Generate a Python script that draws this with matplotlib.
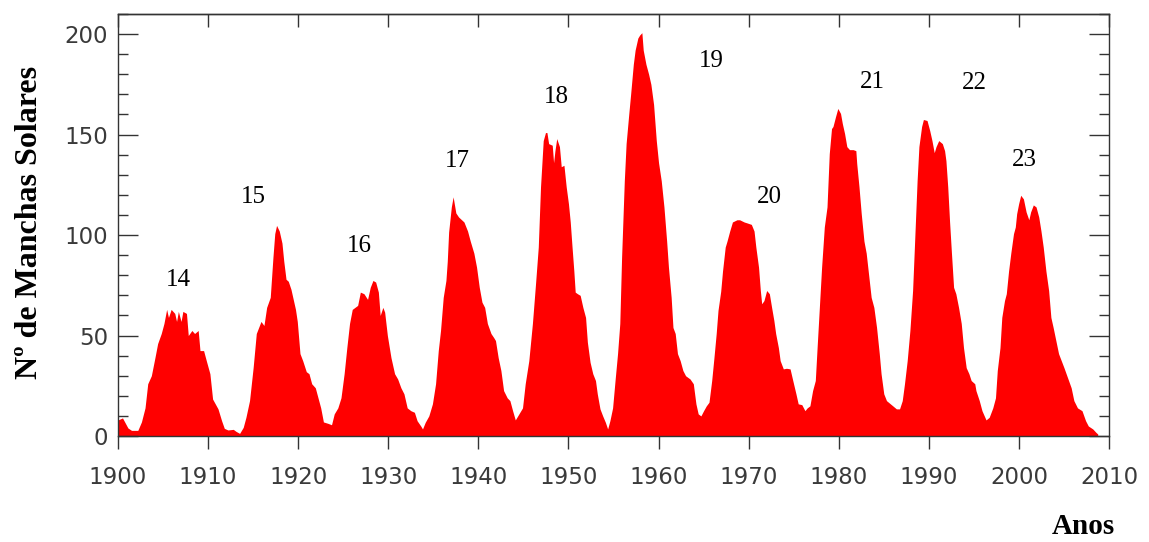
import matplotlib
matplotlib.use("Agg")
import matplotlib.pyplot as plt
from matplotlib.ticker import MultipleLocator

# ---- data (year, smoothed sunspot number) ----
years_a = [1900.0, 1900.5, 1901.1, 1901.5, 1902.2, 1902.6, 1903.0, 1903.3, 1903.7, 1904.1,
           1904.4, 1904.8, 1905.1, 1905.4, 1905.6, 1905.9, 1906.3, 1906.5, 1906.7, 1907.0,
           1907.2, 1907.6, 1907.8, 1908.2, 1908.5, 1908.9, 1909.1, 1909.5, 1909.8, 1910.2,
           1910.5, 1911.1, 1911.5, 1911.8, 1912.2, 1912.8, 1913.1, 1913.5, 1913.9, 1914.2,
           1914.6, 1915.0, 1915.35]
spots_a = [8, 9, 4, 2.8, 2.8, 7, 14, 26, 30, 39,
           46, 51, 56, 63, 59, 63, 61, 57, 62, 57,
           62, 61, 50, 52.5, 51, 52.5, 42.5, 42.5, 37.5, 31,
           18.4, 13.5, 7.6, 3.8, 3, 3.3, 2.3, 1.3, 4.3, 9.3,
           17.6, 34, 51]

years_b = [1915.87, 1916.2, 1916.5, 1916.9, 1917.2, 1917.4, 1917.6, 1917.9, 1918.2, 1918.4,
           1918.65, 1918.9, 1919.2, 1919.5, 1919.7, 1919.9, 1920.2, 1920.5, 1920.9, 1921.2,
           1921.5, 1921.9, 1922.2, 1922.5, 1922.8, 1923.3, 1923.7, 1924.0, 1924.4, 1924.75,
           1925.1, 1925.4, 1925.7, 1926.0, 1926.6, 1926.9, 1927.3, 1927.7, 1928.0, 1928.3,
           1928.6, 1928.9, 1929.1, 1929.4, 1929.6, 1929.9, 1930.3, 1930.7, 1931.04, 1931.4]
spots_b = [57, 55, 64, 69, 89, 100.7, 104.8, 102, 96, 87,
           78, 77, 73, 67, 63, 57, 41, 37.5, 32, 31,
           26, 24, 19, 14, 7, 6.3, 5.6, 11, 14, 19,
           31, 44, 56, 63, 65, 71.6, 70.8, 68, 74, 77.4,
           76.6, 71.6, 60, 64, 61.6, 50, 39, 31, 28.4, 24]

years_c = [1931.74, 1932.1, 1932.5, 1932.9, 1933.2, 1933.6, 1933.8, 1934.1, 1934.5, 1934.9,
           1935.25, 1935.55, 1935.8, 1936.1, 1936.4, 1936.55, 1936.7, 1937.0, 1937.2, 1937.5,
           1937.8, 1938.4, 1938.8, 1939.1, 1939.5, 1939.8, 1940.1, 1940.4, 1940.7, 1941.0,
           1941.4, 1941.7, 1941.9, 1942.2, 1942.5, 1942.8, 1943.2, 1943.5, 1943.8, 1944.1,
           1944.5, 1944.9, 1945.2, 1945.6, 1946.0, 1946.35, 1946.65, 1946.9, 1947.2, 1947.45]
spots_c = [21, 14, 12.6, 11.8, 7.6, 5, 3.5, 6.8, 10, 16,
           26, 42.5, 52.5, 69, 77.4, 87, 101.5, 114, 119, 111,
           109, 106.5, 102, 97, 91, 84, 74, 66.6, 64, 56,
           51, 49, 47.5, 39, 32.6, 22.6, 19, 17.6, 12.6, 8,
           11, 14, 26, 37.5, 56, 76, 94, 124, 147, 151]

years_d = [1947.61, 1947.8, 1948.2, 1948.35, 1948.5, 1948.7, 1949.0, 1949.2, 1949.5, 1949.75,
           1950.0, 1950.2, 1950.4, 1950.6, 1950.75, 1951.0, 1951.3, 1951.6, 1951.9, 1952.1,
           1952.4, 1952.7, 1953.0, 1953.2, 1953.5, 1953.8, 1954.1, 1954.35, 1954.6, 1954.9,
           1955.2, 1955.45, 1955.7, 1955.9, 1956.2, 1956.4, 1956.7, 1956.9, 1957.2, 1957.4,
           1957.7, 1957.9, 1958.15, 1958.3, 1958.6, 1958.9, 1959.15, 1959.45, 1959.75, 1960.0,
           1960.3, 1960.6, 1960.9, 1961.1, 1961.4, 1961.6, 1961.85, 1962.1, 1962.4, 1962.7,
           1963.0, 1963.3]
spots_d = [151, 145.5, 144.7, 136, 142, 148, 144, 134, 134.7, 124,
           115.6, 106.5, 94, 82, 71.6, 70.8, 70, 64, 59, 46.7,
           36.7, 31, 27.6, 21, 13.5, 10, 6.8, 3.5, 7.6, 14,
           29, 41, 56, 89, 127, 145.5, 160.5, 170, 185, 192,
           198, 199.5, 200.7, 192, 185, 180, 175, 165, 147, 136,
           127, 114, 97, 84, 69, 54, 51, 41, 37.5, 32.6,
           30, 29]

years_e = [1963.49, 1963.86, 1964.15, 1964.4, 1964.7, 1965.0, 1965.3, 1965.6, 1965.9, 1966.15,
           1966.4, 1966.6, 1966.9, 1967.1, 1967.4, 1967.6, 1967.9, 1968.2, 1968.7, 1969.0,
           1969.5, 1969.85, 1970.3, 1970.6, 1970.8, 1971.1, 1971.3, 1971.45, 1971.7, 1972.0,
           1972.3, 1972.55, 1972.8, 1973.0, 1973.3, 1973.5, 1973.85, 1974.2, 1974.6, 1974.9,
           1975.25, 1975.5, 1975.9, 1976.25, 1976.5, 1976.8, 1977.1, 1977.4, 1977.6, 1977.85,
           1978.1, 1978.4, 1978.7, 1978.95, 1979.2]
spots_e = [28.4, 26, 16, 11, 10, 12.6, 15, 16.8, 27.6, 39,
           51, 62.5, 72, 82, 94, 97, 102, 106.5, 107.6, 107.6,
           106.5, 106, 105.3, 102, 94, 84, 72.4, 65.8, 67.4, 72.4,
           70.8, 64, 57.5, 51, 44, 37.5, 33.4, 33.7, 33.4, 27.6,
           21, 16, 15.6, 12.6, 14, 15, 22.6, 27.6, 44, 64,
           84, 104, 114, 140.5, 153]

years_f = [1979.36, 1979.65, 1979.9, 1980.2, 1980.4, 1980.65, 1980.9, 1981.2, 1981.6, 1981.9,
           1982.0, 1982.25, 1982.5, 1982.8, 1983.05, 1983.35, 1983.6, 1983.9, 1984.2, 1984.5,
           1984.7, 1985.0, 1985.3, 1985.65, 1986.0, 1986.4, 1986.75, 1987.05, 1987.3, 1987.6,
           1987.9, 1988.2, 1988.4, 1988.7, 1988.9, 1989.2, 1989.4, 1989.8, 1990.1, 1990.35,
           1990.6, 1990.8, 1991.1, 1991.5, 1991.75, 1991.9, 1992.1, 1992.3, 1992.5, 1992.75,
           1993.0, 1993.3, 1993.6, 1993.85, 1994.15, 1994.45, 1994.7, 1995.1]
spots_f = [154, 159, 163, 160.5, 155.5, 150.5, 144, 142.5, 142.5, 142,
           135.5, 124, 110.6, 97, 91, 79, 69, 64, 54, 41,
           31, 21, 17.6, 16.3, 15, 13.5, 13.5, 17.6, 26, 37.5,
           52.5, 72.4, 94, 127, 144, 154, 157.5, 157, 152, 147,
           141, 144, 147, 145.5, 142, 137, 124, 107, 92, 74,
           70.8, 64, 56, 44, 34, 31, 27.6, 26]

years_g = [1995.23, 1995.6, 1995.9, 1996.35, 1996.7, 1997.1, 1997.4, 1997.6, 1997.9, 1998.1,
           1998.4, 1998.6, 1998.85, 1999.1, 1999.4, 1999.6, 1999.75, 1999.97, 2000.2, 2000.5,
           2000.8, 2001.1, 2001.3, 2001.6, 2001.9, 2002.2, 2002.45, 2002.7, 2003.0, 2003.3,
           2003.55, 2003.8, 2004.1, 2004.4, 2004.7, 2005.0, 2005.4, 2005.8, 2006.1, 2006.5,
           2007.0, 2007.4, 2007.7, 2008.2, 2008.55, 2008.75]
spots_g = [22.6, 17.6, 12.6, 8, 9.3, 14, 19, 32.6, 44, 59,
           67.4, 70.8, 82, 91, 100.7, 104, 110.6, 115.6, 119.8, 118,
           111.5, 107.6, 111.5, 115, 114, 109, 102, 94, 82, 72.4,
           59, 54, 47.5, 41, 37.5, 34, 29, 24, 17.6, 14,
           12.6, 7.6, 5, 3.5, 1.8, 1.0]

cycle_labels = ["14", "15", "16", "17", "18", "19", "20", "21", "22", "23"]
cycle_x = [1906.66, 1915.0, 1926.8, 1937.66, 1948.7, 1965.9, 1972.3, 1983.7, 1995.1, 2000.66]
cycle_y = [77.8, 119.0, 94.7, 137.0, 168.8, 186.7, 118.8, 176.0, 175.6, 137.5]

x_ticks = [1900, 1910, 1920, 1930, 1940, 1950, 1960, 1970, 1980, 1990, 2000, 2010]
y_ticks = [0, 50, 100, 150, 200]

years = years_a + years_b + years_c + years_d + years_e + years_f + years_g
spots = spots_a + spots_b + spots_c + spots_d + spots_e + spots_f + spots_g

# ---- figure ----
W, H = 1149, 542
fig = plt.figure(figsize=(W / 100, H / 100), dpi=100)
ax = fig.add_axes([118 / W, (H - 436) / H, (1109 - 118) / W, (436 - 14) / H])

ax.fill_between(years, spots, 0, color="#ff0000", linewidth=0, zorder=1)

ax.set_xlim(1900, 2010)
ax.set_ylim(0, 210)

axis_col = "#333333"
for s in ax.spines.values():
    s.set_color(axis_col)
    s.set_linewidth(1.0)

tick_font = dict(family="DejaVu Sans", size=16.5, color="#3a3a3a")

ax.set_xticks(x_ticks)
ax.set_xticklabels([str(t) for t in x_ticks], **tick_font)
ax.set_yticks(y_ticks)
ax.set_yticklabels([str(t) for t in y_ticks], **tick_font)
ax.yaxis.set_minor_locator(MultipleLocator(10))

ax.tick_params(axis="x", which="major", direction="out", length=9.5, width=1.0,
               color=axis_col, pad=12, top=False, bottom=True)
ax.tick_params(axis="y", which="major", direction="in", length=14.5, width=1.0,
               color=axis_col, pad=7, left=True, right=True)
ax.tick_params(axis="y", which="minor", direction="in", length=7.5, width=1.0,
               color=axis_col, left=True, right=True)

top = ax.secondary_xaxis("top")
top.set_xticks(x_ticks)
top.tick_params(direction="in", length=9.5, width=1.0, color=axis_col, labeltop=False)
top.spines["top"].set_color(axis_col)
top.spines["top"].set_linewidth(1.0)

for lab, xx, yy in zip(cycle_labels, cycle_x, cycle_y):
    ax.text(xx, yy, lab, ha="center", va="center",
            family="Liberation Serif", fontsize=18, color="black")

fig.text(30 / W, (H - 222) / H, "Nº de Manchas Solares", rotation=90,
         ha="center", va="center", family="Liberation Serif",
         fontweight="bold", fontsize=23)
fig.text(1083 / W, (H - 526) / H, "Anos", ha="center", va="center",
         family="Liberation Serif", fontweight="bold", fontsize=21)

fig.savefig("out.png", dpi=100)
